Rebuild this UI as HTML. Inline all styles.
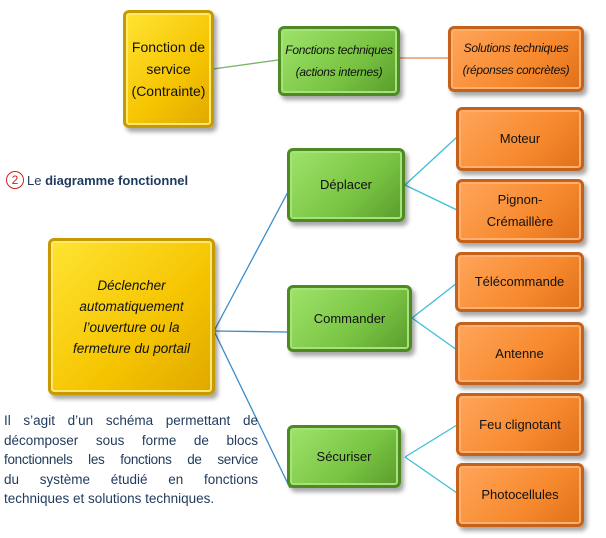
<!DOCTYPE html>
<html><head><meta charset="utf-8"><style>
body{margin:0;width:606px;height:538px;background:#fff;position:relative;overflow:hidden;font-family:"Liberation Sans",sans-serif;}
.b{position:absolute;box-sizing:border-box;border-radius:6px;display:flex;align-items:center;justify-content:center;text-align:center;color:#111;font-size:13px;line-height:20px;}
.y{background:linear-gradient(135deg,#ffe433,#f5c400 60%,#e0a800);border:3px solid #c89a00;box-shadow:inset 0 0 0 2px #ffe870,3px 4px 4px rgba(0,0,0,.35);}
.g{background:linear-gradient(135deg,#9ee36a,#79c443 60%,#5a9c2c);border:3px solid #4d8a22;box-shadow:inset 0 0 0 2px #a5e27a,3px 4px 4px rgba(0,0,0,.35);}
.o{background:linear-gradient(135deg,#ffa55a,#f7892e 60%,#e0701a);border:3px solid #c6611a;box-shadow:inset 0 0 0 2px #ffb070,3px 4px 4px rgba(0,0,0,.35);}
.i{font-style:italic;}
.p{position:absolute;left:4px;top:411px;width:254px;font-size:13.5px;line-height:19.5px;color:#1f3a5c;}
.p div{text-align:justify;text-align-last:justify;white-space:nowrap;}
.p div.l{text-align-last:left;}
</style></head><body>
<svg width="606" height="538" style="position:absolute;left:0;top:0">
<line x1="213" y1="69" x2="278" y2="60" stroke="#7ab36a" stroke-width="1.3"/>
<line x1="400" y1="58" x2="448" y2="58" stroke="#e8844a" stroke-width="1.3"/>
<g stroke="#3c8cc8" stroke-width="1.3"><line x1="214" y1="331" x2="289" y2="190"/><line x1="214" y1="331" x2="288" y2="332"/><line x1="214" y1="331" x2="290" y2="488"/></g>
<g stroke="#3cc0d8" stroke-width="1.3">
<line x1="405" y1="185" x2="457" y2="137"/><line x1="405" y1="185" x2="457" y2="210"/>
<line x1="412" y1="318" x2="457" y2="283"/><line x1="412" y1="318" x2="457" y2="350"/>
<line x1="405" y1="457" x2="457" y2="425"/><line x1="405" y1="457" x2="457" y2="493"/>
</g></svg>
<div class="b y" style="left:123px;top:10px;width:91px;height:118px;font-size:14px;line-height:22px">Fonction de<br>service<br>(Contrainte)</div>
<div class="b g i" style="left:278px;top:26px;width:122px;height:70px;font-size:12px;line-height:22px;letter-spacing:-0.3px;white-space:nowrap">Fonctions techniques<br>(actions internes)</div>
<div class="b o i" style="left:448px;top:26px;width:136px;height:66px;font-size:12px;line-height:22px;letter-spacing:-0.3px;white-space:nowrap">Solutions techniques<br>(réponses concrètes)</div>
<div class="b y i" style="left:48px;top:238px;width:167px;height:157px;font-size:13.5px;line-height:21px">Déclencher<br>automatiquement<br>l’ouverture ou la<br>fermeture du portail</div>
<div class="b g" style="left:287px;top:148px;width:118px;height:74px">Déplacer</div>
<div class="b g" style="left:287px;top:285px;width:125px;height:67px">Commander</div>
<div class="b g" style="left:287px;top:425px;width:114px;height:63px">Sécuriser</div>
<div class="b o" style="left:456px;top:107px;width:128px;height:64px">Moteur</div>
<div class="b o" style="left:456px;top:179px;width:128px;height:64px;line-height:22px">Pignon-<br>Crémaillère</div>
<div class="b o" style="left:455px;top:252px;width:129px;height:60px">Télécommande</div>
<div class="b o" style="left:455px;top:322px;width:129px;height:63px">Antenne</div>
<div class="b o" style="left:456px;top:393px;width:128px;height:63px">Feu clignotant</div>
<div class="b o" style="left:456px;top:463px;width:128px;height:64px">Photocellules</div>
<div style="position:absolute;left:6px;top:171px;font-size:13px;color:#1f3a5c;display:flex;align-items:center"><span style="display:inline-block;width:16px;height:16px;border:1.5px solid #d02020;border-radius:50%;color:#d02020;text-align:center;line-height:16px;font-size:12px;margin-right:3px">2</span>Le&nbsp;<b>diagramme fonctionnel</b></div>
<div class="p">
<div>Il s’agit d’un schéma permettant de</div>
<div>décomposer sous forme de blocs</div>
<div style="letter-spacing:-0.3px">fonctionnels les fonctions de service</div>
<div>du système étudié en fonctions</div>
<div class="l">techniques et solutions techniques.</div>
</div>
</body></html>
